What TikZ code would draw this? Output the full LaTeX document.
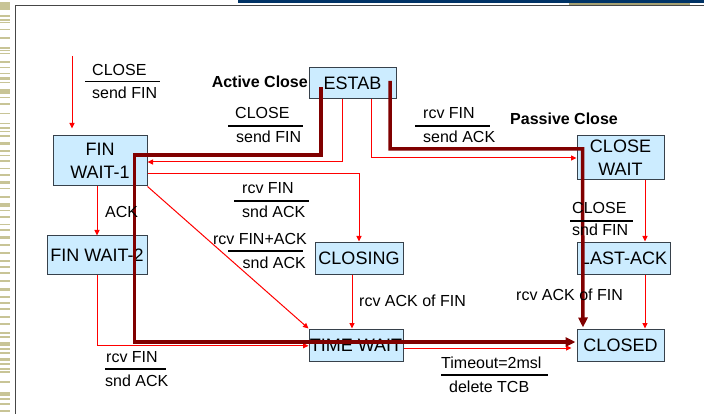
\documentclass[tikz,border=0pt]{standalone}
\usepackage{fontspec}
\setmainfont{Liberation Sans}
\usetikzlibrary{arrows.meta}
\definecolor{boxfill}{RGB}{204,236,255}
\definecolor{boxline}{RGB}{55,65,75}
\definecolor{maroonline}{RGB}{128,0,0}
\definecolor{navybar}{RGB}{0,51,102}
\definecolor{tanstripe}{RGB}{200,196,150}
\definecolor{tanbar}{RGB}{165,160,115}
\definecolor{framegray}{RGB}{70,70,70}
\tikzset{
  state/.style={draw=boxline, line width=1pt, fill=boxfill, rectangle, inner sep=0pt,
    font=\fontsize{18}{23}\selectfont, align=center},
  trans/.style={draw=red, line width=1pt, -{Triangle[length=5.5pt,width=5pt]}},
  mainflow/.style={draw=maroonline, line width=3.5pt, -{Triangle[length=10pt,width=9pt]}},
  lbl/.style={inner sep=0pt, font=\fontsize{16}{19}\selectfont},
  lblb/.style={inner sep=0pt, font=\fontsize{16}{19}\selectfont\bfseries},
  fracbar/.style={draw=black, line width=1.6pt}
}
\begin{document}
\begin{tikzpicture}[x=1pt,y=-1pt]
\useasboundingbox (0,0) rectangle (704,414);
\fill[white] (0,0) rectangle (704,414);
% slide decorations
\fill[navybar] (238,0) rectangle (704,3);
\fill[tanbar] (569,3) rectangle (690,5.2);
\draw[framegray, line width=1.5pt] (15.5,414) -- (15.5,5.5) -- (704,5.5);
\foreach \y/\h in {2/8,15/2,19/2,22/1,29/1.5,37/2,47/2,50/1,53/1.5,61/2,67/1.5,73/1.5,77/3,82/1.5,89/5,97/1.5,103/2,113/1.5,123/1.5,127/2,131/1.5,135/2,142/3,150/2,155/1.5,160/2,168/1.5,174/2,181/3,188/1.5,196/2,203/4,210/1.5,216/2,224/1.5,229/2,236/3,244/1.5,252/2,260/1.5,266/2,272/1.5,280/2,288/3,296/1.5,302/2,308/1.5,316/2,323/1.5,332/2,336/1.5,342/4,348/1.5,352/1.5,358/3,363/1.5,368/1.5,371/1.5,381/1.5,392/4,398/1.5,403/1.5,410/1.5}
  \fill[tanstripe] (0,\y) rectangle (10,\y+\h);

% states
\node[state, minimum width=87pt, minimum height=31pt] (estab) at (352.5,83.5) {ESTAB};
\node[state, minimum width=94pt, minimum height=50pt] (fw1) at (100,161) {FIN\\WAIT-1};
\node[state, minimum width=100pt, minimum height=38pt] (fw2) at (97,255) {FIN WAIT-2};
\node[state, minimum width=88pt, minimum height=32pt] (closing) at (359,258) {CLOSING};
\node[state, minimum width=94pt, minimum height=32pt] (tw) at (356,345) {TIME WAIT};
\node[state, minimum width=87pt, minimum height=44pt] (cw) at (620.5,158) {CLOSE\\WAIT};
\node[state, minimum width=93pt, minimum height=32pt] (la) at (623.5,258) {LAST-ACK};
\node[state, minimum width=87pt, minimum height=32pt] (closed) at (620.5,345) {CLOSED};

% thin red transitions
\coordinate (topin) at (72,56);
\draw[trans, shorten >=7pt] (topin) -- (topin |- fw1.north);
\draw[trans] ([xshift=-10.5pt]estab.south) |- ([yshift=-1pt]fw1.east);
\draw[trans] ([yshift=-13pt]fw1.east) -| (closing.north);
\draw[trans] (fw1.south east) -- (tw.north west);
\draw[trans] ([xshift=-3pt]fw1.south) -- (fw2.north);
\draw[trans] (fw2.south) |- ([yshift=-0.8pt]tw.west);
\draw[trans] ([xshift=-7pt]closing.south) -- ([xshift=-7pt]closing.south |- tw.north);
\draw[trans] ([xshift=18.5pt]estab.south) |- (cw.west);
\draw[trans] ([xshift=24.5pt]cw.south) -- ([xshift=24.5pt]cw.south |- la.north);
\draw[trans] ([xshift=21.5pt]la.south) -- ([xshift=21.5pt]la.south |- closed.north);
\draw[trans, shorten >=5pt] ([yshift=-3pt]tw.east) -- ([yshift=-3pt]tw.east -| closed.west);

% thick main flows
\draw[mainflow] ([xshift=-31.5pt,yshift=-3.5pt]estab.center) |- ([xshift=-13pt,yshift=6pt]fw1.east) |- ([yshift=3pt,xshift=-1pt]closed.west);
\draw[mainflow] ([xshift=37.5pt,yshift=2.5pt]estab.center) |- ([xshift=6pt,yshift=9pt]cw.west) -- ([xshift=-37.5pt,yshift=1pt]closed.north);

% labels
\node[lbl, anchor=base west] (t1a) at (92,76) {CLOSE};
\draw[fracbar] (85,81.5) -- (160,81.5);
\node[lbl, anchor=base west] (t1b) at (92,99) {send FIN};

\node[lblb, anchor=base east] (active) at (308,88) {Active Close};

\node[lbl, anchor=base west] (t2a) at (235,119) {CLOSE};
\draw[fracbar] (228,126) -- (303,126);
\node[lbl, anchor=base west] (t2b) at (236,143) {send FIN};

\node[lbl, anchor=base west] (t3a) at (423,119) {rcv FIN};
\draw[fracbar] (415,126) -- (490,126);
\node[lbl, anchor=base west] (t3b) at (423,143) {send ACK};

\node[lblb, anchor=base west] (passive) at (510,125) {Passive Close};

\node[lbl, anchor=base west] (ack) at (105,218) {ACK};

\node[lbl, anchor=base west] (t4a) at (242,194) {rcv FIN};
\draw[fracbar] (234,201) -- (309,201);
\node[lbl, anchor=base west] (t4b) at (242,218) {snd ACK};

\node[lbl, anchor=base east] (t5a) at (307,244) {rcv FIN+ACK};
\draw[fracbar] (228,251) -- (303,251);
\node[lbl, anchor=base east] (t5b) at (306,268) {snd ACK};

\node[lbl, anchor=base west] (t6) at (359,306) {rcv ACK of FIN};

\node[lbl, anchor=base west] (t7a) at (572,214) {CLOSE};
\draw[fracbar] (570,221) -- (633,221);
\node[lbl, anchor=base west] (t7b) at (572,236) {snd FIN};

\node[lbl, anchor=base west] (t8) at (516,300) {rcv ACK of FIN};

\node[lbl, anchor=base west] (t9a) at (106,362) {rcv FIN};
\draw[fracbar] (105,369) -- (166,369);
\node[lbl, anchor=base west] (t9b) at (105,386) {snd ACK};

\node[lbl, anchor=base west] (t10a) at (441,368) {Timeout=2msl};
\draw[fracbar] (441,375) -- (548,375);
\node[lbl, anchor=base west] (t10b) at (449,392) {delete TCB};
\end{tikzpicture}
\end{document}
